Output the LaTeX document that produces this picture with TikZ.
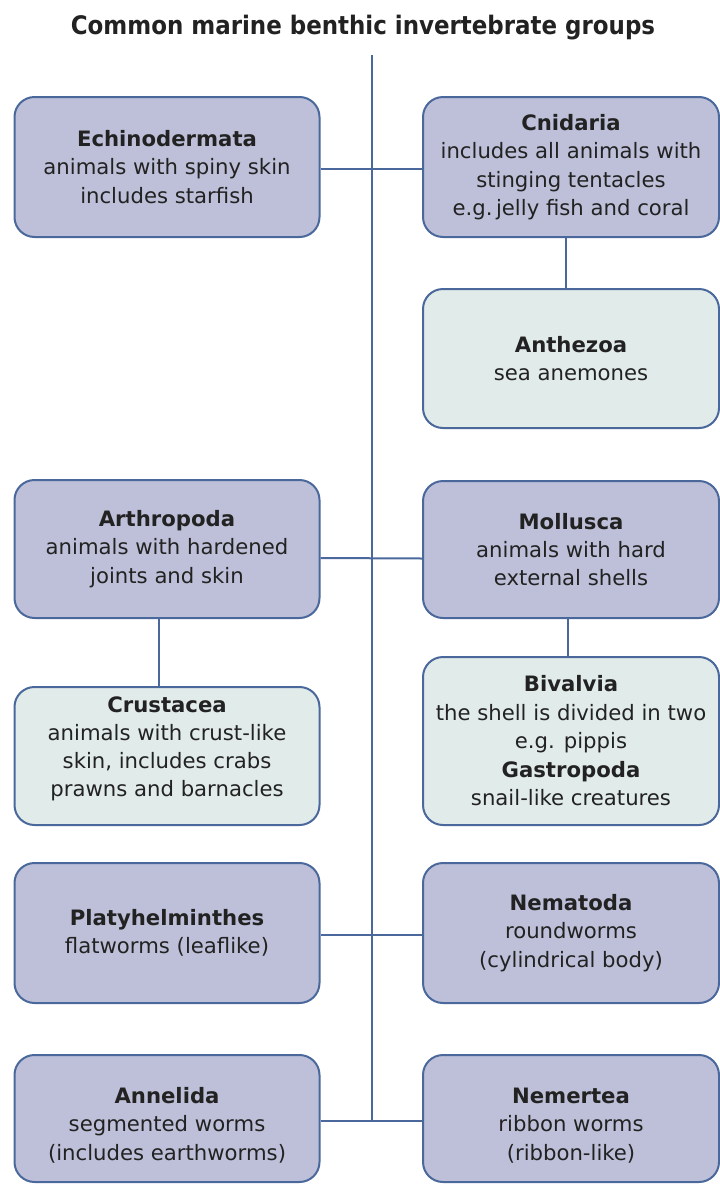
\documentclass[tikz,border=0pt]{standalone}
\usepackage{fontspec}
\setmainfont{DejaVu Sans}
\newfontfamily\condfont{DejaVu Sans Condensed}
\definecolor{boxblue}{HTML}{BDC0D8}
\definecolor{boxlight}{HTML}{E1EBE9}
\definecolor{edge}{HTML}{4A689B}
\definecolor{txt}{HTML}{222222}
\tikzset{
  grp/.style={draw=edge, line width=2pt, rounded corners=20pt, fill=boxblue,
    minimum width=305pt, minimum height=140pt, inner sep=0pt, align=center,
    text=txt, font=\fontsize{21.2}{28.3}\selectfont},
  sub/.style={grp, fill=boxlight},
  link/.style={draw=edge, line width=2pt},
}
\begin{document}
\begin{tikzpicture}[x=1pt,y=-1pt]
\useasboundingbox (0,0) rectangle (720,1189);
\node[text=txt, font=\condfont\bfseries\fontsize{25.5}{30}\selectfont] (title) at (363,28) {Common marine benthic invertebrate groups};
% boxes
\node[grp] (echi) at (167,167) {\textbf{Echinodermata}\\animals with spiny skin\\includes starfish};
\node[grp, minimum width=296pt] (cnid) at (571,167) {\textbf{Cnidaria}\\includes all animals with\\stinging tentacles\\e.g.\,jelly fish and coral};
\node[sub, minimum width=296pt, minimum height=139pt] (anth) at (571,358.5) {\textbf{Anthezoa}\\sea anemones};
\node[grp, minimum height=138pt] (arth) at (167,549) {\textbf{Arthropoda}\\animals with hardened\\joints and skin};
\node[grp, minimum width=296pt, minimum height=137pt] (moll) at (571,549.5) {\textbf{Mollusca}\\animals with hard\\external shells};
\node[sub, minimum height=138pt] (crus) at (167,756) {\raisebox{2pt}[0pt][0pt]{\begin{tabular}{@{}c@{}}\textbf{Crustacea}\\animals with crust-like\\skin, includes crabs\\prawns and barnacles\end{tabular}}};
\node[sub, minimum width=296pt, minimum height=168pt, font=\fontsize{21.2}{28.5}\selectfont] (biva) at (571,741) {\textbf{Bivalvia}\\the shell is divided in two\\e.g. pippis\\\textbf{Gastropoda}\\snail-like creatures};
\node[grp] (plat) at (167,933) {\textbf{Platyhelminthes}\\flatworms (leaflike)};
\node[grp, minimum width=296pt] (nema) at (571,933) {\textbf{Nematoda}\\roundworms\\(cylindrical body)};
\node[grp, minimum height=127pt] (anne) at (167,1118.5) {\raisebox{-13pt}[0pt][0pt]{\begin{tabular}{@{}c@{}}\textbf{Annelida}\\segmented worms\\(includes earthworms)\end{tabular}}};
\node[grp, minimum width=296pt, minimum height=127pt] (neme) at (571,1118.5) {\raisebox{-13pt}[0pt][0pt]{\begin{tabular}{@{}c@{}}\textbf{Nemertea}\\ribbon worms\\(ribbon-like)\end{tabular}}};
% spine
\coordinate (top) at (372,55);
\coordinate (bot) at (372,1121);
\draw[link] (top) -- (bot);
% connectors
\draw[link] ([yshift=-2pt]echi.east) -- ([yshift=-2pt]cnid.west);
\draw[link] ([yshift=-9pt]arth.east) -- ([yshift=-9pt]moll.west);
\draw[link] ([yshift=-2pt]plat.east) -- ([yshift=-2pt]nema.west);
\draw[link] ([yshift=-2.5pt]anne.east) -- ([yshift=-2.5pt]neme.west);
\draw[link] ([xshift=-5pt]cnid.south) -- ([xshift=-5pt]anth.north);
\draw[link] ([xshift=-8pt]arth.south) -- ([xshift=-8pt]crus.north);
\draw[link] ([xshift=-3pt]moll.south) -- ([xshift=-3pt]biva.north);
\end{tikzpicture}
\end{document}
